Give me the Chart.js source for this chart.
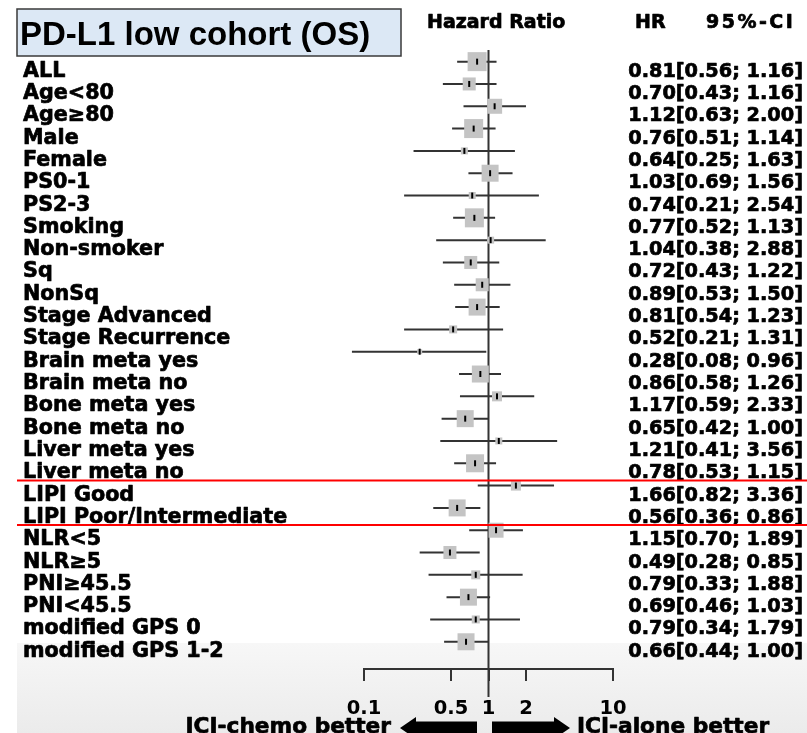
<!DOCTYPE html>
<html>
<head>
<meta charset="utf-8">
<script src="https://cdn.jsdelivr.net/npm/chart.js@4.4.1/dist/chart.umd.min.js"></script>
<style>
html, body { margin: 0; padding: 0; background: #fff; }
#wrap { width: 807px; height: 733px; }
</style>
</head>
<body>
<div id="wrap"><canvas id="forest" width="807" height="733"></canvas></div>
<script>
const subgroups = [
	'ALL', 'Age<80', 'Age≥80', 'Male', 'Female', 'PS0-1', 'PS2-3', 'Smoking',
	'Non-smoker', 'Sq', 'NonSq', 'Stage Advanced', 'Stage Recurrence',
	'Brain meta yes', 'Brain meta no', 'Bone meta yes', 'Bone meta no',
	'Liver meta yes', 'Liver meta no', 'LIPI Good', 'LIPI Poor/Intermediate',
	'NLR<5', 'NLR≥5', 'PNI≥45.5', 'PNI<45.5', 'modified GPS 0', 'modified GPS 1-2'
];
const hazardRatios = [0.81, 0.70, 1.12, 0.76, 0.64, 1.03, 0.74, 0.77, 1.04, 0.72, 0.89, 0.81, 0.52, 0.28, 0.86, 1.17, 0.65, 1.21, 0.78, 1.66, 0.56, 1.15, 0.49, 0.79, 0.69, 0.79, 0.66];
const ciLower = [0.56, 0.43, 0.63, 0.51, 0.25, 0.69, 0.21, 0.52, 0.38, 0.43, 0.53, 0.54, 0.21, 0.08, 0.58, 0.59, 0.42, 0.41, 0.53, 0.82, 0.36, 0.70, 0.28, 0.33, 0.46, 0.34, 0.44];
const ciUpper = [1.16, 1.16, 2.00, 1.14, 1.63, 1.56, 2.54, 1.13, 2.88, 1.22, 1.50, 1.23, 1.31, 0.96, 1.26, 2.33, 1.00, 3.56, 1.15, 3.36, 0.86, 1.89, 0.85, 1.88, 1.03, 1.79, 1.00];
// relative study weight (drives the grey box size)
const boxWeights = [19, 13, 15, 19, 7, 17, 7, 19, 7, 13, 13, 17, 8, 5, 17, 10, 17, 7, 18, 10, 17, 15, 13, 9, 17, 8, 17];
const tickValues = [0.1, 0.5, 1, 2, 10];
const tickLabels = ['0.1', '0.5', '1', '2', '10'];
const groupBreaks = [18, 20]; // red rule under these rows

const fmt = v => v.toFixed(2);

const ciPoints = [];
subgroups.forEach((s, i) => {
	ciPoints.push({ x: ciLower[i], y: i }, { x: ciUpper[i], y: i }, { x: null, y: null });
});

// filled text with a hairline stroke, the slide font is heavier than DejaVu Bold
const heavyText = (ctx, txt, x, y) => {
	ctx.strokeText(txt, x, y);
	ctx.fillText(txt, x, y);
};

const forestDecor = {
	id: 'forestDecor',
	beforeDraw(chart) {
		const { ctx } = chart;
		ctx.save();
		// grey slide band at the bottom
		const g = ctx.createLinearGradient(0, 643, 0, 733);
		g.addColorStop(0, '#f7f7f7');
		g.addColorStop(1, '#ebebeb');
		ctx.fillStyle = g;
		ctx.fillRect(17, 643, 790, 90);
		// title box
		ctx.fillStyle = '#dce8f5';
		ctx.fillRect(17, 9, 384, 47);
		ctx.strokeStyle = '#3a3a3a';
		ctx.lineWidth = 1.5;
		ctx.strokeRect(17, 9, 384, 47);
		ctx.restore();
	},
	beforeDatasetsDraw(chart) {
		const { ctx, scales: { x } } = chart;
		const x1 = x.getPixelForValue(1);
		ctx.save();
		ctx.strokeStyle = '#333';
		ctx.lineWidth = 2;
		ctx.beginPath();
		ctx.moveTo(x1, 50);
		ctx.lineTo(x1, 697);
		ctx.stroke();
		ctx.restore();
	},
	afterDraw(chart) {
		const { ctx, scales: { y } } = chart;
		ctx.save();
		ctx.fillStyle = '#000';
		ctx.strokeStyle = '#000';
		ctx.lineWidth = 0.7;
		ctx.lineJoin = 'round';
		ctx.textBaseline = 'alphabetic';

		ctx.font = 'bold 33px "Liberation Sans", Arial, sans-serif';
		ctx.fillText('PD-L1 low cohort (OS)', 20, 45);

		ctx.font = 'bold 19px "DejaVu Sans", sans-serif';
		heavyText(ctx, 'Hazard Ratio', 427, 28);
		heavyText(ctx, 'HR', 635, 28);
		ctx.letterSpacing = '2.5px';
		heavyText(ctx, '95%-CI', 706, 28);
		ctx.letterSpacing = '0px';

		subgroups.forEach((s, i) => {
			const py = y.getPixelForValue(i) + 15;
			ctx.textAlign = 'left';
			ctx.font = 'bold 20.7px "DejaVu Sans", sans-serif';
			heavyText(ctx, s, 23, py);
			ctx.textAlign = 'right';
			ctx.font = 'bold 19.3px "DejaVu Sans", sans-serif';
			heavyText(ctx, fmt(hazardRatios[i]) + '[' + fmt(ciLower[i]) + '; ' + fmt(ciUpper[i]) + ']', 803, py);
		});

		// red group rules
		ctx.strokeStyle = '#ff0000';
		ctx.lineWidth = 2;
		groupBreaks.forEach(r => {
			const py = y.getPixelForValue(r + 0.77);
			ctx.beginPath();
			ctx.moveTo(17, py);
			ctx.lineTo(807, py);
			ctx.stroke();
		});

		// direction arrows
		ctx.fillStyle = '#000';
		const ay = 728;
		ctx.beginPath();
		ctx.moveTo(400, ay);
		ctx.lineTo(416, ay - 11);
		ctx.lineTo(416, ay - 6.5);
		ctx.lineTo(477, ay - 6.5);
		ctx.lineTo(477, ay + 6.5);
		ctx.lineTo(416, ay + 6.5);
		ctx.lineTo(416, ay + 11);
		ctx.closePath();
		ctx.fill();
		ctx.beginPath();
		ctx.moveTo(570, ay);
		ctx.lineTo(554, ay - 11);
		ctx.lineTo(554, ay - 6.5);
		ctx.lineTo(492, ay - 6.5);
		ctx.lineTo(492, ay + 6.5);
		ctx.lineTo(554, ay + 6.5);
		ctx.lineTo(554, ay + 11);
		ctx.closePath();
		ctx.fill();

		ctx.strokeStyle = '#000';
		ctx.lineWidth = 0.7;
		ctx.font = 'bold 21.7px "DejaVu Sans", sans-serif';
		ctx.textAlign = 'right';
		heavyText(ctx, 'ICI-chemo better', 391, 733);
		ctx.textAlign = 'left';
		heavyText(ctx, 'ICI-alone better', 577, 733);
		ctx.restore();
	}
};

new Chart(document.getElementById('forest'), {
	type: 'scatter',
	data: {
		datasets: [
			{
				label: 'HR tick',
				data: hazardRatios.map((v, i) => ({ x: v, y: i })),
				pointStyle: 'line',
				rotation: 90,
				pointRadius: 3,
				pointBorderWidth: 2,
				pointBorderColor: '#000',
				order: 0
			},
			{
				label: 'Weight',
				data: hazardRatios.map((v, i) => ({ x: v, y: i })),
				pointStyle: 'rect',
				pointRadius: boxWeights.map(w => w * Math.SQRT1_2),
				pointBackgroundColor: '#c4c4c4',
				pointBorderWidth: 0,
				order: 1
			},
			{
				label: '95% CI',
				type: 'line',
				data: ciPoints,
				borderColor: '#333',
				borderWidth: 2,
				pointRadius: 0,
				spanGaps: false,
				clip: false,
				order: 2
			}
		]
	},
	options: {
		responsive: false,
		animation: false,
		layout: { padding: { left: 364, right: 194, top: 40, bottom: 0 } },
		plugins: { legend: { display: false }, tooltip: { enabled: false } },
		font: { family: '"DejaVu Sans", sans-serif' },
		scales: {
			x: {
				type: 'logarithmic',
				position: 'bottom',
				min: 0.1,
				max: 10,
				afterBuildTicks: scale => {
					scale.ticks = tickValues.map(v => ({ value: v }));
				},
				afterFit: scale => {
					scale.height = 64;
				},
				grid: { display: true, drawOnChartArea: false, tickLength: 12, color: '#333', lineWidth: 2 },
				border: { display: true, color: '#333', width: 2 },
				ticks: {
					autoSkip: false,
					maxRotation: 0,
					padding: 16,
					color: '#000',
					font: { family: '"DejaVu Sans", sans-serif', weight: 'bold', size: 19.5 },
					callback: (v, idx) => tickLabels[idx]
				}
			},
			y: {
				type: 'linear',
				display: false,
				reverse: true,
				min: -0.97,
				max: 27.22
			}
		}
	},
	plugins: [forestDecor]
});
</script>
</body>
</html>
